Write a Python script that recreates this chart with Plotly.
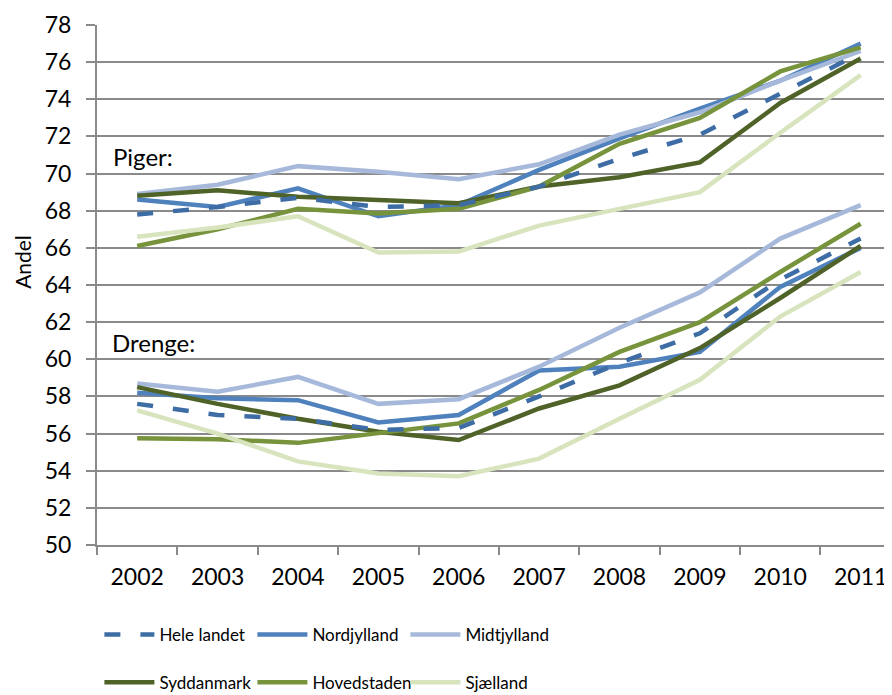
import plotly.graph_objects as go

# data
years = ['2002', '2003', '2004', '2005', '2006', '2007', '2008', '2009', '2010', '2011']

# Piger (girls)
hele_p = [67.8, 68.2, 68.7, 68.2, 68.3, 69.3, 70.8, 72.1, 74.3, 76.5]
nord_p = [68.6, 68.2, 69.2, 67.7, 68.3, 70.2, 71.9, 73.5, 75.0, 77.0]
midt_p = [68.9, 69.4, 70.4, 70.1, 69.7, 70.5, 72.1, 73.3, 75.0, 76.6]
syd_p = [68.8, 69.1, 68.75, 68.6, 68.4, 69.3, 69.8, 70.6, 73.8, 76.2]
hoved_p = [66.1, 67.0, 68.1, 67.85, 68.1, 69.3, 71.6, 73.0, 75.5, 76.8]
sjael_p = [66.6, 67.1, 67.7, 65.75, 65.8, 67.2, 68.1, 69.0, 72.2, 75.3]

# Drenge (boys)
hele_d = [57.6, 57.0, 56.8, 56.2, 56.3, 58.0, 59.8, 61.4, 64.3, 66.5]
nord_d = [58.2, 57.9, 57.8, 56.6, 57.0, 59.4, 59.6, 60.4, 63.9, 66.0]
midt_d = [58.7, 58.25, 59.05, 57.6, 57.85, 59.6, 61.7, 63.6, 66.5, 68.3]
syd_d = [58.5, 57.6, 56.8, 56.1, 55.65, 57.35, 58.6, 60.6, 63.3, 66.1]
hoved_d = [55.75, 55.7, 55.5, 56.0, 56.55, 58.35, 60.4, 62.0, 64.7, 67.3]
sjael_d = [57.25, 56.0, 54.5, 53.85, 53.7, 54.65, 56.8, 58.9, 62.3, 64.7]

FONT = 'Lato, Liberation Sans, sans-serif'

series = [
    # name, piger, drenge, colour, dash, legend, rank
    ('Nordjylland', nord_p, nord_d, '#4F81BD', 'solid', 'legend', 2),
    ('Midtjylland', midt_p, midt_d, '#A7B9DB', 'solid', 'legend', 3),
    ('Syddanmark', syd_p, syd_d, '#4F6228', 'solid', 'legend2', 4),
    ('Hovedstaden', hoved_p, hoved_d, '#77933C', 'solid', 'legend2', 5),
    ('Sjælland', sjael_p, sjael_d, '#D7E4BD', 'solid', 'legend2', 6),
    ('Hele landet', hele_p, hele_d, '#3E6DA5', '16px,20px', 'legend', 1),
]

fig = go.Figure()
for name, yp, yd, col, dash, leg, rank in series:
    for i, ys in enumerate([yp, yd]):
        fig.add_trace(go.Scatter(
            x=years, y=ys, mode='lines', name=name,
            line=dict(color=col, width=4.5, dash=dash),
            legendgroup=name, showlegend=(i == 0),
            legend=leg, legendrank=rank,
        ))

fig.add_annotation(text='Piger:', x=0.017, xref='paper', xanchor='left',
                   y=70.9, yref='y', yanchor='middle', showarrow=False,
                   font=dict(size=24, color='black', family=FONT))
fig.add_annotation(text='Drenge:', x=0.016, xref='paper', xanchor='left',
                   y=60.9, yref='y', yanchor='middle', showarrow=False,
                   font=dict(size=24, color='black', family=FONT))
fig.add_annotation(text='Andel', x=-0.094, xref='paper', xanchor='center',
                   y=0.545, yref='paper', yanchor='middle',
                   showarrow=False, textangle=-90,
                   font=dict(size=21, color='black', family=FONT))

legend_common = dict(orientation='h', xanchor='left', yanchor='middle',
                     font=dict(size=17, color='black', family=FONT),
                     itemwidth=50, entrywidth=88, entrywidthmode='pixels',
                     bgcolor='rgba(0,0,0,0)', traceorder='normal')

# the page body adds an 8px offset, so the figure is 8px smaller than the window
fig.update_layout(
    width=884, height=687,
    margin=dict(l=89, r=0, t=17, b=150, autoexpand=False),
    paper_bgcolor='white', plot_bgcolor='white',
    font=dict(family=FONT, color='black'),
    legend=dict(x=0.003, y=-0.173, **legend_common),
    legend2=dict(x=0.003, y=-0.265, **legend_common),
    xaxis=dict(
        type='category', range=[-0.5, 9.39], showgrid=False,
        showline=True, linecolor='#8a8a8a', linewidth=2,
        ticks='outside', ticklen=8, tickcolor='#8a8a8a', tickwidth=2,
        tickson='boundaries', ticklabelstandoff=10,
        tickfont=dict(size=23, color='black', family=FONT),
    ),
    yaxis=dict(
        range=[50, 78], dtick=2, showgrid=True, gridcolor='#8a8a8a', gridwidth=1.6,
        showline=True, linecolor='#8a8a8a', linewidth=2, zeroline=False,
        ticks='outside', ticklen=9, tickcolor='#8a8a8a', tickwidth=1.6,
        ticklabelstandoff=10,
        tickfont=dict(size=23, color='black', family=FONT),
    ),
)

fig.write_html('out.html')
